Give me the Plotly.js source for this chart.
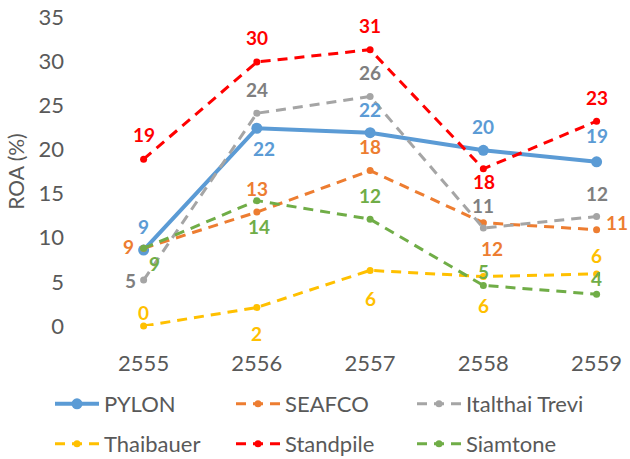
<!DOCTYPE html>
<html>
<head>
<meta charset="utf-8">
<script src="https://cdn.plot.ly/plotly-3.0.1.min.js"></script>
<style>html,body{margin:0;padding:0;background:#fff;}#chart{width:630px;height:459px;}</style>
</head>
<body>
<div id="chart"></div>
<script>
// ---- data ----
var years = ['2555', '2556', '2557', '2558', '2559'];
var seriesNames = ['PYLON', 'SEAFCO', 'Italthai Trevi', 'Thaibauer', 'Standpile', 'Siamtone'];
var pylon     = [8.6, 22.4, 21.9, 19.9, 18.6];
var seafco    = [8.8, 12.9, 17.6, 11.7, 10.9];
var italthai  = [5.2, 24.1, 26.0, 11.1, 12.4];
var thaibauer = [0.0, 2.1, 6.3, 5.6, 5.9];
var standpile = [18.9, 29.9, 31.3, 17.8, 23.2];
var siamtone  = [8.8, 14.2, 12.1, 4.6, 3.6];
var yTicks = [0, 5, 10, 15, 20, 25, 30, 35];

// ---- styles ----
var values = [pylon, seafco, italthai, thaibauer, standpile, siamtone];
var lineColors  = ['#5B9BD5', '#ED7D31', '#A5A5A5', '#FFC000', '#FF0000', '#70AD47'];
var labelColors = ['#5B9BD5', '#ED7D31', '#7F7F7F', '#FFC000', '#FF0000', '#70AD47'];
// label offsets [dx, dy] in px (dy positive = down)
var labelOffsets = [
  [[0,-24],[7,20],[0,-23],[0,-24],[0,-26]],
  [[-15,-2],[0,-24],[0,-24],[9,26],[20,-7]],
  [[-13,0],[0,-24],[0,-24],[0,-23],[0,-23]],
  [[0,-14],[0,26],[0,28],[0,29],[0,-18]],
  [[0,-25],[0,-25],[0,-24],[1,13],[0,-24]],
  [[11,15],[2,26],[0,-24],[0,-14],[0,-16]]
];

var FONT = 'Lato, "Open Sans", sans-serif';
var GREY = '#595959';

var traces = [];
var annotations = [];
for (var s = 0; s < values.length; s++) {
  var isMain = s === 0;
  traces.push({
    type: 'scatter',
    mode: 'lines+markers',
    name: seriesNames[s],
    x: years,
    y: values[s],
    legend: s < 3 ? 'legend' : 'legend2',
    line: {color: lineColors[s], width: isMain ? 4 : 3, dash: isMain ? 'solid' : '10px,7px'},
    marker: {color: lineColors[s], size: isMain ? 11 : 7},
    cliponaxis: false
  });
  for (var i = 0; i < years.length; i++) {
    annotations.push({
      x: i, y: values[s][i], xref: 'x', yref: 'y',
      text: '<b>' + Math.round(values[s][i]) + '</b>',
      showarrow: false,
      xshift: labelOffsets[s][i][0],
      yshift: -labelOffsets[s][i][1],
      font: {family: FONT, size: 19, color: labelColors[s]}
    });
  }
}

var legendBase = {
  orientation: 'h',
  xref: 'container', yref: 'container',
  xanchor: 'left', yanchor: 'middle',
  x: 50 / 630,
  entrywidth: 122,
  itemwidth: 44,
  font: {family: FONT, size: 22, color: GREY},
  bgcolor: 'rgba(0,0,0,0)',
  borderwidth: 0
};
var legend1 = Object.assign({}, legendBase, {y: 1 - 404 / 459});
var legend2 = Object.assign({}, legendBase, {y: 1 - 444 / 459});

var layout = {
  width: 630, height: 459,
  margin: {l: 87, r: 0, t: 17, b: 133},
  paper_bgcolor: '#fff', plot_bgcolor: '#fff',
  font: {family: FONT, color: GREY},
  showlegend: true,
  legend: legend1,
  legend2: legend2,
  hovermode: false,
  xaxis: {
    type: 'category',
    range: [-0.5, 4.295],
    showgrid: false, zeroline: false, showline: false, ticks: '',
    tickfont: {family: FONT, size: 22, color: GREY},
    ticklabelstandoff: 22
  },
  yaxis: {
    range: [0, 35],
    tickvals: yTicks,
    showgrid: false, zeroline: false, showline: false, ticks: '',
    tickfont: {family: FONT, size: 22, color: GREY},
    ticklabelstandoff: 22,
    title: {text: 'ROA (%)', font: {family: FONT, size: 21, color: GREY}, standoff: 8}
  },
  annotations: annotations
};

Plotly.newPlot('chart', traces, layout, {displayModeBar: false});
</script>
</body>
</html>
